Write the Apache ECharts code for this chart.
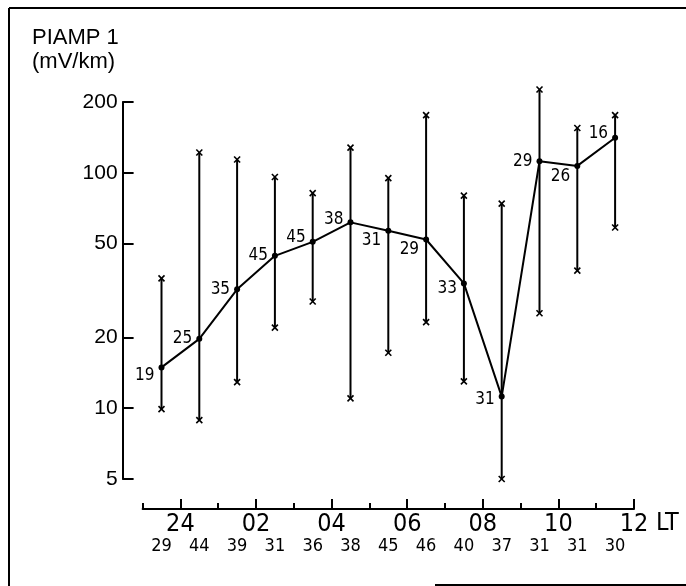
<!DOCTYPE html>
<html>
<head>
<meta charset="utf-8">
<script src="https://cdn.jsdelivr.net/npm/echarts@6/dist/echarts.min.js"></script>
<style>
html,body{margin:0;padding:0;background:#fff;}
#chart{width:686px;height:586px;}
</style>
</head>
<body>
<div id="chart"></div>
<script>
// Hour-interval midpoints (LT, 24 = midnight, 36 = noon of next day)
var hourMid = [23.5, 24.5, 25.5, 26.5, 27.5, 28.5, 29.5, 30.5, 31.5, 32.5, 33.5, 34.5, 35.5];
// Mean PIAMP 1 (mV/km)
var meanVals = [14.9, 19.7, 32, 44.4, 50.9, 61.6, 56.7, 52.1, 33.9, 11.2, 112, 107, 141];
// Upper and lower extremes
var maxVals = [35.6, 122, 114, 96, 82, 128, 95, 176, 80, 74, 226, 155, 176];
var minVals = [9.9, 8.9, 12.9, 22, 28.4, 11, 17.2, 23.2, 13, 5.0, 25.3, 38.4, 58.6];
// Number of values behind each mean
var meanCounts = [19, 25, 35, 45, 45, 38, 31, 29, 33, 31, 29, 26, 16];
// Total counts written under the time axis
var totalCounts = [29, 44, 39, 31, 36, 38, 45, 46, 40, 37, 31, 31, 30];
// Axis ticks
var yTicks = [5, 10, 20, 50, 100, 200];
var xMajor = [24, 26, 28, 30, 32, 34, 36];

// style only: vertical nudges of the count labels
var labelDy = [8, 0, 0, 0, -4, -3, 10, 10, 5, 3, 0, 11, -4];

var NARROW = "'Liberation Sans Narrow', 'DejaVu Sans Condensed', 'Liberation Sans', sans-serif";
var SANS = "'Liberation Sans', Arial, sans-serif";

var chart = echarts.init(document.getElementById('chart'), null, {renderer: 'canvas'});

function hourLabel(v) { var h = v > 24 ? v - 24 : v; return (h < 10 ? '0' : '') + h; }

var option = {
  animation: false,
  backgroundColor: '#fff',
  title: {
    text: 'PIAMP 1\n(mV/km)',
    left: 27, top: 21,
    textStyle: {fontFamily: SANS, fontSize: 22, fontWeight: 'normal', color: '#000', lineHeight: 24}
  },
  grid: {left: 142.6, right: 52, top: 102, bottom: 107, containLabel: false},
  xAxis: [
    {
      type: 'value', position: 'bottom', min: 23, max: 36, interval: 1, offset: 30,
      axisLine: {lineStyle: {color: '#000', width: 2}},
      axisTick: {inside: true, length: 6, lineStyle: {color: '#000', width: 2}},
      axisLabel: {show: false},
      splitLine: {show: false}
    },
    {
      type: 'value', position: 'bottom', min: 23, max: 36, offset: 30,
      axisLine: {show: false},
      axisTick: {inside: true, length: 10, customValues: xMajor, lineStyle: {color: '#000', width: 2}},
      axisLabel: {
        customValues: xMajor, margin: 3, color: '#000',
        fontFamily: NARROW, fontSize: 25,
        formatter: function (v) { return hourLabel(v); }
      },
      name: 'LT', nameLocation: 'end', nameGap: 22,
      nameTextStyle: {fontFamily: NARROW, fontSize: 25, color: '#000', verticalAlign: 'top', padding: [2, 0, 0, 0]},
      splitLine: {show: false}
    },
    {
      type: 'value', position: 'bottom', min: 23, max: 36, offset: 30,
      axisLine: {show: false},
      axisTick: {show: false},
      axisLabel: {
        customValues: hourMid, margin: 28, color: '#000',
        fontFamily: NARROW, fontSize: 18,
        formatter: function (v) { return String(totalCounts[hourMid.indexOf(v)]); }
      },
      splitLine: {show: false}
    }
  ],
  yAxis: {
    type: 'log', logBase: 10, min: 5, max: 200, offset: 20,
    axisLine: {show: true, lineStyle: {color: '#000', width: 2}},
    axisTick: {show: true, inside: true, length: 11, customValues: yTicks, lineStyle: {color: '#000', width: 2}},
    axisLabel: {
      customValues: yTicks, margin: 5, color: '#000',
      fontFamily: SANS, fontSize: 21,
      formatter: function (v) { return String(Math.round(v)); }
    },
    splitLine: {show: false},
    minorTick: {show: false}
  },
  graphic: [
    {type: 'line', shape: {x1: 9, y1: 8, x2: 686, y2: 8}, style: {stroke: '#000', lineWidth: 2}},
    {type: 'line', shape: {x1: 9, y1: 8, x2: 9, y2: 586}, style: {stroke: '#000', lineWidth: 2}},
    {type: 'line', shape: {x1: 435, y1: 585, x2: 686, y2: 585}, style: {stroke: '#000', lineWidth: 2}}
  ],
  series: [
    {
      type: 'custom',
      xAxisIndex: 0, yAxisIndex: 0,
      clip: false,
      encode: {x: 0, y: [1, 2]},
      data: hourMid.map(function (h, i) { return [h, minVals[i], maxVals[i]]; }),
      renderItem: function (params, api) {
        var x = api.value(0);
        var pLo = api.coord([x, api.value(1)]);
        var pHi = api.coord([x, api.value(2)]);
        var s = 3;
        var st = {stroke: '#000', lineWidth: 1.6};
        function cross(p) {
          return [
            {type: 'line', shape: {x1: p[0] - s, y1: p[1] - s, x2: p[0] + s, y2: p[1] + s}, style: st},
            {type: 'line', shape: {x1: p[0] + s, y1: p[1] - s, x2: p[0] - s, y2: p[1] + s}, style: st}
          ];
        }
        return {
          type: 'group',
          children: [
            {type: 'line', shape: {x1: pLo[0], y1: pLo[1], x2: pHi[0], y2: pHi[1]}, style: {stroke: '#000', lineWidth: 2}}
          ].concat(cross(pLo), cross(pHi))
        };
      },
      z: 2
    },
    {
      type: 'line',
      xAxisIndex: 0, yAxisIndex: 0,
      clip: false,
      symbol: 'circle', symbolSize: 6,
      itemStyle: {color: '#000'},
      lineStyle: {color: '#000', width: 2},
      data: hourMid.map(function (h, i) {
        return {value: [h, meanVals[i]], label: {offset: [0, labelDy[i]]}};
      }),
      label: {
        show: true, position: 'left', distance: 4,
        color: '#000', fontFamily: NARROW, fontSize: 17,
        formatter: function (p) { return String(meanCounts[p.dataIndex]); }
      },
      z: 3
    }
  ]
};
chart.setOption(option);
</script>
</body>
</html>
